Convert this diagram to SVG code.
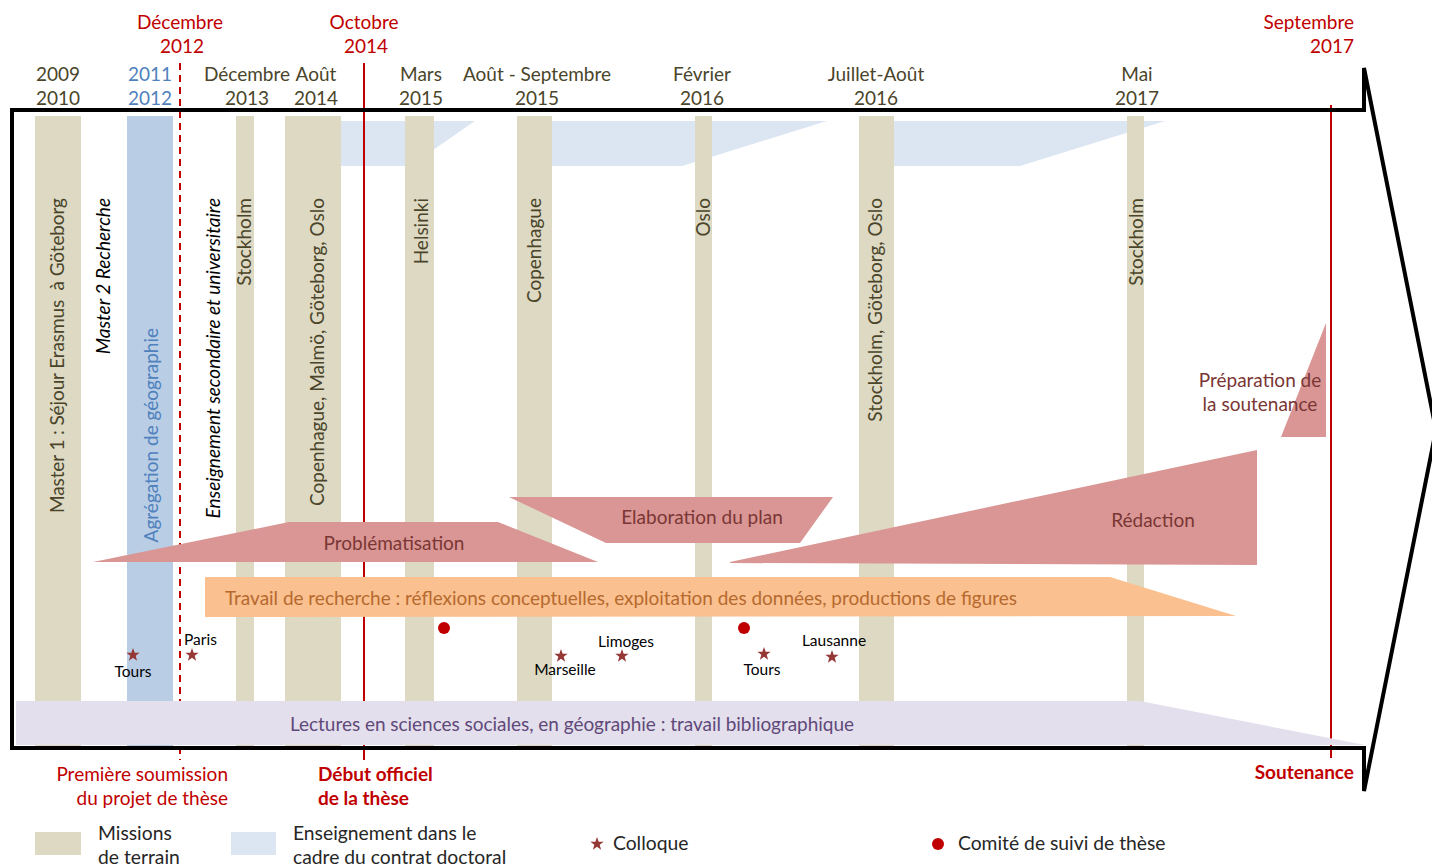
<svg xmlns="http://www.w3.org/2000/svg" width="1432" height="866" viewBox="0 0 1432 866">
<style>
  text{font-family:Lato,"Liberation Sans","Noto Sans",sans-serif}
  .hdr{font-size:19px;fill:#4A452A;text-anchor:middle}
  .red{font-size:19px;fill:#C00000}
  .vt{font-size:19px;fill:#4A452A;text-anchor:end}
  .it{font-style:italic;fill:#000}
  .pk{font-size:19px;fill:#7A3634;text-anchor:middle}
  .lbl{font-size:15.5px;fill:#000}
  .leg{font-size:19.3px;fill:#262626}
  .tan{fill:#DDD9C3}
  .teach{fill:#DCE6F2}
  .pink{fill:#D99694}
  .star{fill:#953735}
  .dot{fill:#C00000}
</style>
<defs>
  <polygon id="star" points="0,-7 1.65,-2.27 6.66,-2.16 2.66,0.87 4.11,5.66 0,2.8 -4.11,5.66 -2.66,0.87 -6.66,-2.16 -1.65,-2.27"/>
</defs>

<!-- teaching shapes -->
<g id="teaching">
  <polygon class="teach" points="341,121 475,121 410,166 341,166"/>
  <polygon class="teach" points="552,121 827,121 682,166 552,166"/>
  <polygon class="teach" points="894,121 1165,121 1020,166 894,166"/>
</g>

<!-- mission bars -->
<g id="bars">
  <rect class="tan" x="35" y="116" width="46" height="632"/>
  <rect x="127" y="116" width="46" height="632" fill="#B9CDE5"/>
  <rect class="tan" x="236" y="116" width="18" height="632"/>
  <rect class="tan" x="285" y="116" width="56" height="632"/>
  <rect class="tan" x="405" y="116" width="29" height="632"/>
  <rect class="tan" x="517" y="116" width="35" height="632"/>
  <rect class="tan" x="695" y="116" width="17" height="632"/>
  <rect class="tan" x="859" y="116" width="35" height="632"/>
  <rect class="tan" x="1127" y="116" width="17" height="632"/>
</g>

<!-- vertical labels -->
<g id="vlabels">
  <text class="vt" transform="translate(64,198) rotate(-90)" textLength="315">Master 1 : Séjour Erasmus&#160; à Göteborg</text>
  <text class="vt it" transform="translate(110,198) rotate(-90)">Master 2 Recherche</text>
  <text class="vt" style="fill:#4F81BD" transform="translate(158,328) rotate(-90)">Agrégation de géographie</text>
  <text class="vt it" transform="translate(220,198) rotate(-90)">Enseignement secondaire et universitaire</text>
  <text class="vt" transform="translate(251,198) rotate(-90)">Stockholm</text>
  <text class="vt" transform="translate(324,198) rotate(-90)">Copenhague, Malmö, Göteborg, Oslo</text>
  <text class="vt" transform="translate(428,198) rotate(-90)">Helsinki</text>
  <text class="vt" transform="translate(541,198) rotate(-90)">Copenhague</text>
  <text class="vt" transform="translate(710,198) rotate(-90)">Oslo</text>
  <text class="vt" transform="translate(882,198) rotate(-90)">Stockholm, Göteborg, Oslo</text>
  <text class="vt" transform="translate(1143,198) rotate(-90)">Stockholm</text>
</g>

<!-- red time markers -->
<g id="markers" stroke="#C00000" stroke-width="2" fill="none">
  <line x1="180" y1="63" x2="180" y2="760" stroke-dasharray="7,5"/>
  <line x1="364" y1="63" x2="364" y2="760"/>
  <line x1="1331" y1="105" x2="1331" y2="758"/>
</g>

<!-- phases -->
<g id="problematisation">
  <polygon class="pink" points="93,562 289,522 498,522 598,562"/>
  <text class="pk" x="394" y="550">Problématisation</text>
</g>
<g id="elaboration">
  <polygon class="pink" points="509,497 833,497 800,543 606,543"/>
  <text class="pk" x="702" y="524">Elaboration du plan</text>
</g>
<g id="redaction">
  <polygon class="pink" points="730,562 1257,450 1257,565 730,563"/>
  <text class="pk" x="1153" y="527">Rédaction</text>
</g>
<g id="preparation">
  <polygon class="pink" points="1326,323 1326,437 1281,437"/>
  <text class="pk" x="1260" y="387">Préparation de</text>
  <text class="pk" x="1260" y="411">la soutenance</text>
</g>
<g id="travail">
  <polygon fill="#FAC090" points="205,577 1110,577 1236,616 205,617"/>
  <text x="225" y="605" font-size="19" fill="#B66A2E" textLength="792">Travail de recherche : réflexions conceptuelles, exploitation des données, productions de figures</text>
</g>
<g id="lectures">
  <polygon fill="#E4DFEC" points="16,701 1140,701 1365,745 16,745"/>
  <text x="290" y="731" font-size="19" fill="#5F497A" textLength="564">Lectures en sciences sociales, en géographie : travail bibliographique</text>
</g>

<!-- big arrow outline -->
<g id="arrow">
  <path d="M12,110 L1364,110 L1364,68 L1436,430 L1364,791 L1364,748 L12,748 Z" fill="none" stroke="#000" stroke-width="4" stroke-linejoin="miter" stroke-miterlimit="4"/>
</g>

<!-- colloques and committee -->
<g id="events">
  <use href="#star" class="star" x="133" y="655"/>
  <text class="lbl" x="133" y="677" text-anchor="middle">Tours</text>
  <use href="#star" class="star" x="192" y="655"/>
  <text class="lbl" x="184" y="645">Paris</text>
  <use href="#star" class="star" x="561" y="656"/>
  <text class="lbl" x="565" y="675" text-anchor="middle">Marseille</text>
  <use href="#star" class="star" x="622" y="656"/>
  <text class="lbl" x="626" y="647" text-anchor="middle">Limoges</text>
  <use href="#star" class="star" x="764" y="654"/>
  <text class="lbl" x="762" y="675" text-anchor="middle">Tours</text>
  <use href="#star" class="star" x="832" y="657"/>
  <text class="lbl" x="834" y="646" text-anchor="middle">Lausanne</text>
  <circle class="dot" cx="444" cy="628" r="6"/>
  <circle class="dot" cx="744" cy="628" r="6"/>
</g>

<!-- header dates -->
<g id="dates">
  <text class="hdr" x="58" y="81">2009</text>
  <text class="hdr" x="58" y="105">2010</text>
  <text class="hdr" x="150" y="81" style="fill:#4F81BD">2011</text>
  <text class="hdr" x="150" y="105" style="fill:#4F81BD">2012</text>
  <text class="hdr" x="247" y="81">Décembre</text>
  <text class="hdr" x="247" y="105">2013</text>
  <text class="hdr" x="316" y="81">Août</text>
  <text class="hdr" x="316" y="105">2014</text>
  <text class="hdr" x="421" y="81">Mars</text>
  <text class="hdr" x="421" y="105">2015</text>
  <text class="hdr" x="537" y="81">Août - Septembre</text>
  <text class="hdr" x="537" y="105">2015</text>
  <text class="hdr" x="702" y="81">Février</text>
  <text class="hdr" x="702" y="105">2016</text>
  <text class="hdr" x="876" y="81">Juillet-Août</text>
  <text class="hdr" x="876" y="105">2016</text>
  <text class="hdr" x="1137" y="81">Mai</text>
  <text class="hdr" x="1137" y="105">2017</text>
  <text class="red" x="180" y="29" text-anchor="middle">Décembre</text>
  <text class="red" x="182" y="53" text-anchor="middle">2012</text>
  <text class="red" x="364" y="29" text-anchor="middle">Octobre</text>
  <text class="red" x="366" y="53" text-anchor="middle">2014</text>
  <text class="red" x="1354" y="29" text-anchor="end">Septembre</text>
  <text class="red" x="1354" y="53" text-anchor="end">2017</text>
</g>

<!-- bottom milestones -->
<g id="milestones">
  <text class="red" x="228" y="781" text-anchor="end">Première soumission</text>
  <text class="red" x="228" y="805" text-anchor="end">du projet de thèse</text>
  <text class="red" x="318" y="781" font-weight="bold">Début officiel</text>
  <text class="red" x="318" y="805" font-weight="bold">de la thèse</text>
  <text class="red" x="1354" y="779" font-weight="bold" text-anchor="end">Soutenance</text>
</g>

<!-- legend -->
<g id="legend">
  <rect class="tan" x="35" y="832" width="46" height="23"/>
  <text class="leg" x="98" y="840">Missions</text>
  <text class="leg" x="98" y="864">de terrain</text>
  <rect class="teach" x="231" y="832" width="45" height="23"/>
  <text class="leg" x="293" y="840">Enseignement dans le</text>
  <text class="leg" x="293" y="864">cadre du contrat doctoral</text>
  <use href="#star" class="star" x="597" y="844"/>
  <text class="leg" x="613" y="850">Colloque</text>
  <circle class="dot" cx="938" cy="844" r="6"/>
  <text class="leg" x="958" y="850">Comité de suivi de thèse</text>
</g>
</svg>
